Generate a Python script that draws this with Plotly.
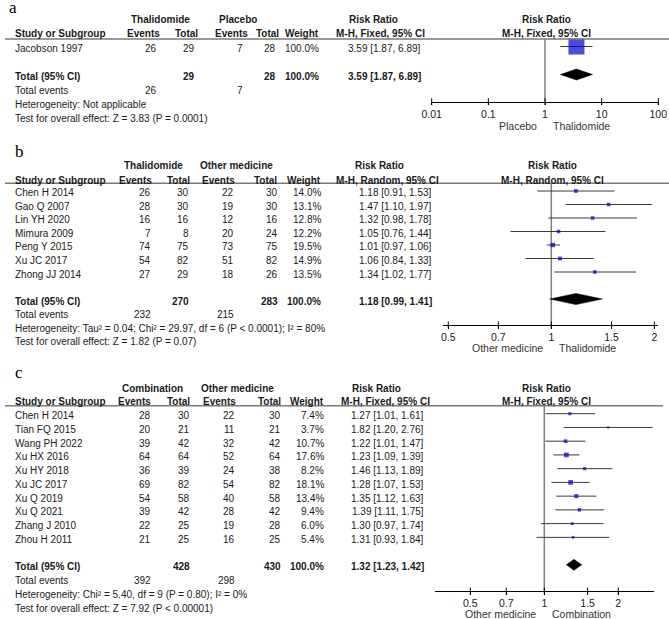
import math
import plotly.graph_objects as go

W, H = 669, 619

# ---------------- Panel a data ----------------
a_studies = ["Jacobson 1997"]
a_ev_t = [26]
a_n_t = [29]
a_ev_c = [7]
a_n_c = [28]
a_weight = [100.0]
a_rr = [3.59]
a_lo = [1.87]
a_hi = [6.89]
a_total_n = [29, 28]
a_total_ev = [26, 7]
a_total_weight = 100.0
a_pooled = [3.59, 1.87, 6.89]
a_groups = ["Thalidomide", "Placebo"]
a_method = "M-H, Fixed, 95% CI"
a_het = "Heterogeneity: Not applicable"
a_test = "Test for overall effect: Z = 3.83 (P = 0.0001)"
a_ticks = [0.01, 0.1, 1, 10, 100]
a_ticklabels = ["0.01", "0.1", "1", "10", "100"]
a_favours = ["Placebo", "Thalidomide"]

# ---------------- Panel b data ----------------
b_studies = ["Chen H 2014", "Gao Q 2007", "Lin YH 2020", "Mimura 2009",
             "Peng Y 2015", "Xu JC 2017", "Zhong JJ 2014"]
b_ev_t = [26, 28, 16, 7, 74, 54, 27]
b_n_t = [30, 30, 16, 8, 75, 82, 29]
b_ev_c = [22, 19, 12, 20, 73, 51, 18]
b_n_c = [30, 30, 16, 24, 75, 82, 26]
b_weight = [14.0, 13.1, 12.8, 12.2, 19.5, 14.9, 13.5]
b_rr = [1.18, 1.47, 1.32, 1.05, 1.01, 1.06, 1.34]
b_lo = [0.91, 1.10, 0.98, 0.76, 0.97, 0.84, 1.02]
b_hi = [1.53, 1.97, 1.78, 1.44, 1.06, 1.33, 1.77]
b_total_n = [270, 283]
b_total_ev = [232, 215]
b_total_weight = 100.0
b_pooled = [1.18, 0.99, 1.41]
b_groups = ["Thalidomide", "Other medicine"]
b_method = "M-H, Random, 95% CI"
b_het = "Heterogeneity: Tau² = 0.04; Chi² = 29.97, df = 6 (P < 0.0001); I² = 80%"
b_test = "Test for overall effect: Z = 1.82 (P = 0.07)"
b_ticks = [0.5, 0.7, 1, 1.5, 2]
b_ticklabels = ["0.5", "0.7", "1", "1.5", "2"]
b_favours = ["Other medicine", "Thalidomide"]

# ---------------- Panel c data ----------------
c_studies = ["Chen H 2014", "Tian FQ 2015", "Wang PH 2022", "Xu HX 2016", "Xu HY 2018",
             "Xu JC 2017", "Xu Q 2019", "Xu Q 2021", "Zhang J 2010", "Zhou H 2011"]
c_ev_t = [28, 20, 39, 64, 36, 69, 54, 39, 22, 21]
c_n_t = [30, 21, 42, 64, 39, 82, 58, 42, 25, 25]
c_ev_c = [22, 11, 32, 52, 24, 54, 40, 28, 19, 16]
c_n_c = [30, 21, 42, 64, 38, 82, 58, 42, 28, 25]
c_weight = [7.4, 3.7, 10.7, 17.6, 8.2, 18.1, 13.4, 9.4, 6.0, 5.4]
c_rr = [1.27, 1.82, 1.22, 1.23, 1.46, 1.28, 1.35, 1.39, 1.30, 1.31]
c_lo = [1.01, 1.20, 1.01, 1.09, 1.13, 1.07, 1.12, 1.11, 0.97, 0.93]
c_hi = [1.61, 2.76, 1.47, 1.39, 1.89, 1.53, 1.63, 1.75, 1.74, 1.84]
c_total_n = [428, 430]
c_total_ev = [392, 298]
c_total_weight = 100.0
c_pooled = [1.32, 1.23, 1.42]
c_groups = ["Combination", "Other medicine"]
c_method = "M-H, Fixed, 95% CI"
c_het = "Heterogeneity: Chi² = 5.40, df = 9 (P = 0.80); I² = 0%"
c_test = "Test for overall effect: Z = 7.92 (P < 0.00001)"
c_ticks = [0.5, 0.7, 1, 1.5, 2]
c_ticklabels = ["0.5", "0.7", "1", "1.5", "2"]
c_favours = ["Other medicine", "Combination"]

# ---------------- styles / layout (pixels) ----------------
FONT = "Liberation Sans, Arial, sans-serif"
SERIF = "Liberation Serif, Times New Roman, serif"
TXT = "#1a1a1a"
FS = 10
BLUE = "#0000CC"

STY = {
    "a": dict(top=0, bottom=132, row0=46.5, step=14.0, axis=101.7,
              xdom=(431.7, 658.3), xr=(-2, 2), label=(7, 8),
              h1=-2.05, h2=-1.05, line_r=-0.536, line_x=(5, 669),
              col_hdr=[162, 200, 250, 281, 321], col=[159, 197, 245, 278, 321],
              grp_c=[160, 238], rr_hdr_c=[373, 380], rr_right=423, fp_hdr_c=546,
              sq_k=1.6, dia_half=5.5, fav_dy=24.3),
    "b": dict(top=135, bottom=355, row0=191.0, step=13.5, axis=325.0,
              xdom=(443.0, 658.0), xr=(-0.3165, 0.3118), label=(12.5, 151),
              h1=-2.02, h2=-0.96, line_r=-0.57, line_x=(5, 669),
              col_hdr=[154, 192, 237, 279, 323], col=[153, 191, 236, 280, 323],
              grp_c=[153, 236], rr_hdr_c=[379, 387.5], rr_right=434, fp_hdr_c=552.5,
              sq_k=1.0, dia_half=5.6, fav_dy=22.7),
    "c": dict(top=360, bottom=619, row0=413.7, step=13.74, axis=591.0,
              xdom=(435.0, 654.0), xr=(-0.4447, 0.4463), label=(12.5, 372),
              h1=-1.99, h2=-1.07, line_r=-0.58, line_x=(5, 663),
              col_hdr=[153, 192, 238, 283, 326], col=[153, 192, 237, 283, 326],
              grp_c=[152, 237.5], rr_hdr_c=[376.7, 385.5], rr_right=426, fp_hdr_c=546.5,
              sq_k=1.12, dia_half=5.5, fav_dy=23.3),
}
TEXT_SHIFT = 2

fig = go.Figure()
annotations = []
shapes = []
layout_axes = {}


def add_text(s, xpx, yrow, yref, anchor, bold=False, size=FS, color=TXT):
    annotations.append(dict(
        text=f"<b>{s}</b>" if bold else s, x=xpx / W, xref="paper",
        y=yrow, yref=yref, xanchor=anchor, yanchor="middle", showarrow=False,
        yshift=-TEXT_SHIFT, font=dict(family=FONT, size=size, color=color)))


def build(idx, label, studies, ev_t, n_t, ev_c, n_c, weight, rr, lo, hi,
          total_n, total_ev, total_weight, pooled, groups, method, het, test,
          ticks, ticklabels, favours):
    s = STY[label]
    xa = "x" if idx == 1 else f"x{idx}"
    ya = "y" if idx == 1 else f"y{idx}"
    xkey = "xaxis" if idx == 1 else f"xaxis{idx}"
    ykey = "yaxis" if idx == 1 else f"yaxis{idx}"
    n = len(studies)
    r_total, r_events, r_het, r_test = n + 1, n + 2, n + 3, n + 4
    r_axis = (s["axis"] - s["row0"]) / s["step"]
    r_top = (s["top"] - s["row0"]) / s["step"]
    r_bot = (s["bottom"] - s["row0"]) / s["step"]

    layout_axes[ykey] = dict(domain=[1 - s["bottom"] / H, 1 - s["top"] / H],
                             range=[r_bot, r_top], visible=False, anchor=xa,
                             fixedrange=True, automargin=False)
    layout_axes[xkey] = dict(domain=[s["xdom"][0] / W, s["xdom"][1] / W], type="log",
                             range=list(s["xr"]), anchor="free",
                             position=1 - s["axis"] / H, showline=True,
                             linecolor="black", linewidth=1, ticks="outside",
                             ticklen=2.5, tickcolor="black", tickwidth=1,
                             tickvals=ticks, ticktext=ticklabels,
                             tickfont=dict(family=FONT, size=FS + 0.5, color=TXT),
                             showgrid=False, zeroline=False, fixedrange=True,
                             automargin=False)

    # line of no effect
    fig.add_trace(go.Scatter(x=[1, 1], y=[s["line_r"], r_axis], mode="lines",
                             line=dict(color="#808080", width=1.5),
                             xaxis=xa, yaxis=ya, hoverinfo="skip"))
    # tick crossings
    fig.add_trace(go.Scatter(x=ticks, y=[r_axis] * len(ticks), mode="markers",
                             marker=dict(symbol="line-ns", size=5,
                                         line=dict(width=1, color="black")),
                             cliponaxis=False, xaxis=xa, yaxis=ya, hoverinfo="skip"))
    # CI lines
    cx, cy = [], []
    for i in range(n):
        cx += [lo[i], hi[i], None]
        cy += [i, i, None]
    fig.add_trace(go.Scatter(x=cx, y=cy, mode="lines",
                             line=dict(color="#3a3a3a", width=1),
                             xaxis=xa, yaxis=ya, hoverinfo="skip"))
    # squares
    fig.add_trace(go.Scatter(x=rr, y=list(range(n)), mode="markers",
                             marker=dict(symbol="square", color=BLUE,
                                         size=[max(2.0, s["sq_k"] * math.sqrt(w)) for w in weight],
                                         line=dict(width=0)),
                             xaxis=xa, yaxis=ya, hoverinfo="skip"))
    # diamond
    h = s["dia_half"] / s["step"]
    fig.add_trace(go.Scatter(x=[pooled[1], pooled[0], pooled[2], pooled[0], pooled[1]],
                             y=[r_total, r_total - h, r_total, r_total + h, r_total],
                             mode="lines", fill="toself", fillcolor="black",
                             line=dict(color="black", width=0.5),
                             xaxis=xa, yaxis=ya, hoverinfo="skip"))

    # header rule
    shapes.append(dict(type="line", xref="paper", yref=ya,
                       x0=s["line_x"][0] / W, x1=s["line_x"][1] / W,
                       y0=s["line_r"], y1=s["line_r"],
                       line=dict(color="#7a7a7a", width=1.5)))

    # panel label
    annotations.append(dict(text=label, x=s["label"][0] / W, xref="paper",
                            y=1 - s["label"][1] / H, yref="paper",
                            xanchor="left", yanchor="middle", showarrow=False,
                            font=dict(family=SERIF, size=17, color="black")))

    # headers
    add_text(groups[0], s["grp_c"][0], s["h1"], ya, "center", bold=True)
    add_text(groups[1], s["grp_c"][1], s["h1"], ya, "center", bold=True)
    add_text("Risk Ratio", s["rr_hdr_c"][0], s["h1"], ya, "center", bold=True)
    add_text("Risk Ratio", s["fp_hdr_c"], s["h1"], ya, "center", bold=True)
    add_text("Study or Subgroup", 13, s["h2"], ya, "left", bold=True)
    for name, xr in zip(["Events", "Total", "Events", "Total", "Weight"], s["col_hdr"]):
        add_text(name, xr, s["h2"], ya, "right", bold=True)
    add_text(method, s["rr_hdr_c"][1], s["h2"], ya, "center", bold=True)
    add_text(method, s["fp_hdr_c"], s["h2"], ya, "center", bold=True)

    # study rows
    for i in range(n):
        add_text(studies[i], 13, i, ya, "left")
        vals = [str(ev_t[i]), str(n_t[i]), str(ev_c[i]), str(n_c[i]), f"{weight[i]:.1f}%"]
        for v, xr in zip(vals, s["col"]):
            add_text(v, xr, i, ya, "right")
        add_text(f"{rr[i]:.2f} [{lo[i]:.2f}, {hi[i]:.2f}]", s["rr_right"], i, ya, "right")

    # total row
    add_text("Total (95% CI)", 13, r_total, ya, "left", bold=True)
    add_text(str(total_n[0]), s["col"][1], r_total, ya, "right", bold=True)
    add_text(str(total_n[1]), s["col"][3], r_total, ya, "right", bold=True)
    add_text(f"{total_weight:.1f}%", s["col"][4], r_total, ya, "right", bold=True)
    add_text(f"{pooled[0]:.2f} [{pooled[1]:.2f}, {pooled[2]:.2f}]", s["rr_right"],
             r_total, ya, "right", bold=True)
    add_text("Total events", 13, r_events, ya, "left")
    add_text(str(total_ev[0]), s["col"][0], r_events, ya, "right")
    add_text(str(total_ev[1]), s["col"][2], r_events, ya, "right")
    add_text(het, 13, r_het, ya, "left")
    add_text(test, 13, r_test, ya, "left")

    # favours labels under the axis
    for txt, anc, dx in [(favours[0], "right", -6), (favours[1], "left", 6)]:
        annotations.append(dict(text=txt, x=math.log10(1.0), xref=xa,
                                y=1 - s["axis"] / H, yref="paper",
                                xanchor=anc, yanchor="middle", xshift=dx,
                                yshift=-s["fav_dy"], showarrow=False,
                                font=dict(family=FONT, size=FS + 0.5, color="#333333")))


build(1, "a", a_studies, a_ev_t, a_n_t, a_ev_c, a_n_c, a_weight, a_rr, a_lo, a_hi,
      a_total_n, a_total_ev, a_total_weight, a_pooled, a_groups, a_method, a_het, a_test,
      a_ticks, a_ticklabels, a_favours)
build(2, "b", b_studies, b_ev_t, b_n_t, b_ev_c, b_n_c, b_weight, b_rr, b_lo, b_hi,
      b_total_n, b_total_ev, b_total_weight, b_pooled, b_groups, b_method, b_het, b_test,
      b_ticks, b_ticklabels, b_favours)
build(3, "c", c_studies, c_ev_t, c_n_t, c_ev_c, c_n_c, c_weight, c_rr, c_lo, c_hi,
      c_total_n, c_total_ev, c_total_weight, c_pooled, c_groups, c_method, c_het, c_test,
      c_ticks, c_ticklabels, c_favours)

fig.update_layout(width=W, height=H, margin=dict(l=0, r=0, t=0, b=0, pad=0),
                  autosize=False,
                  paper_bgcolor="white", plot_bgcolor="rgba(0,0,0,0)",
                  showlegend=False, annotations=annotations, shapes=shapes,
                  font=dict(family=FONT, size=FS, color=TXT), **layout_axes)

fig.write_html("out.html", config={"displayModeBar": False},
               post_script="document.body.style.margin='0';document.body.style.overflow='hidden';")
